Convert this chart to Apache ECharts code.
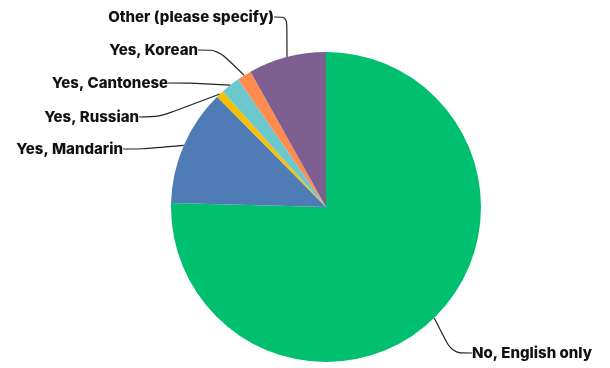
<!DOCTYPE html>
<html>
<head>
<meta charset="utf-8">
<script src="https://cdn.jsdelivr.net/npm/echarts@6/dist/echarts.min.js"></script>
<style>
  html, body { margin: 0; padding: 0; background: #fff; }
  #chart { width: 610px; height: 368px; }
</style>
</head>
<body>
<div id="chart"></div>
<script>
// answers, clockwise from 12 o'clock
var categories = ['No, English only', 'Yes, Mandarin', 'Yes, Russian', 'Yes, Cantonese', 'Yes, Korean', 'Other (please specify)'];
var values = [75.4, 12.2, 0.8, 2.0, 1.5, 8.1];
var colors = ['#00BF6F', '#507CB6', '#F9BE00', '#6BC8CD', '#FF8B4F', '#7D5E90'];

// where each label sits (text anchor incl. padding)
var labelPos = [
  { x: 466, y: 353, align: 'left' },
  { x: 129, y: 149, align: 'right' },
  { x: 145, y: 117, align: 'right' },
  { x: 174, y: 83, align: 'right' },
  { x: 204, y: 50, align: 'right' },
  { x: 280, y: 17, align: 'right' }
];

var chart = echarts.init(document.getElementById('chart'));

var pieData = [];
for (var i = 0; i < categories.length; i++) {
  pieData.push({ name: categories[i], value: values[i], itemStyle: { color: colors[i] } });
}

chart.setOption({
  animation: false,
  series: [{
    type: 'pie',
    center: [326, 207],
    radius: 155,
    startAngle: 90,
    clockwise: true,
    data: pieData,
    itemStyle: { borderWidth: 0 },
    label: {
      show: true,
      color: '#111',
      fontFamily: 'Inter',
      fontWeight: 800,
      fontSize: 15,
      padding: [0, 6],
      overflow: 'none',
      formatter: '{b}'
    },
    labelLine: {
      show: true,
      smooth: 0.3,
      length: 15,
      length2: 20,
      lineStyle: { color: '#222', width: 1.2 }
    },
    labelLayout: function (params) {
      var p = labelPos[params.dataIndex];
      return { x: p.x, y: p.y, align: p.align, verticalAlign: 'middle' };
    }
  }]
});
</script>
</body>
</html>
